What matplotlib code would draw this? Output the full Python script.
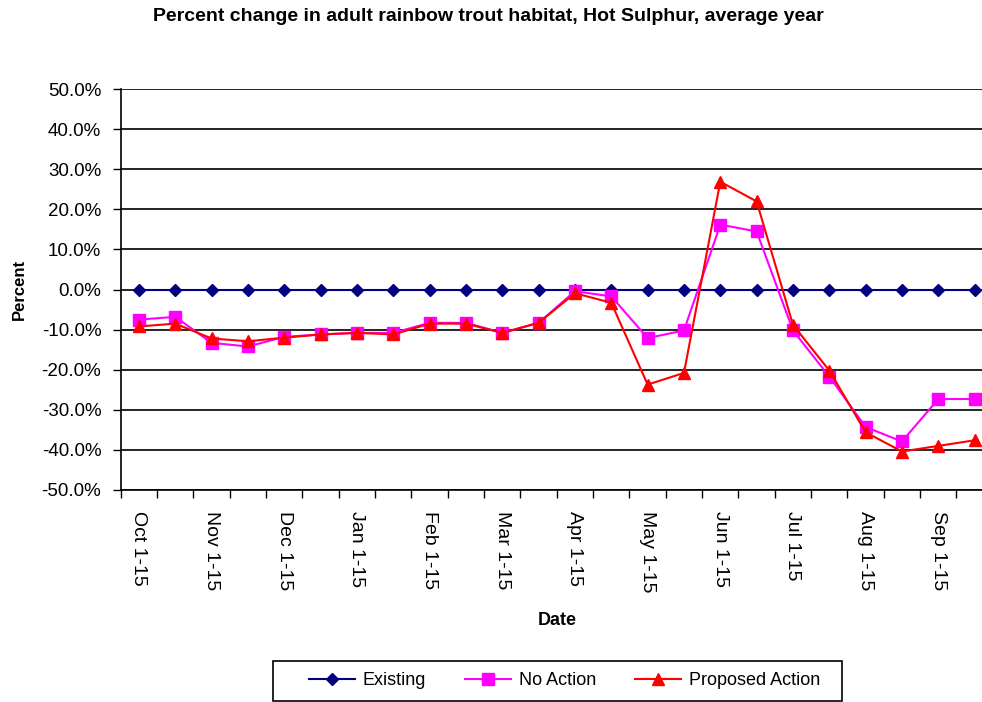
import matplotlib
matplotlib.use("Agg")
import matplotlib.pyplot as plt
from matplotlib.patches import Rectangle
from matplotlib.ticker import FuncFormatter, FixedLocator

plt.rcParams["font.family"] = ["Liberation Sans", "DejaVu Sans"]

# %% Data
periods = ["Oct 1-15", "Oct 16-31", "Nov 1-15", "Nov 16-30", "Dec 1-15", "Dec 16-31",
           "Jan 1-15", "Jan 16-31", "Feb 1-15", "Feb 16-28", "Mar 1-15", "Mar 16-31",
           "Apr 1-15", "Apr 16-30", "May 1-15", "May 16-31", "Jun 1-15", "Jun 16-30",
           "Jul 1-15", "Jul 16-31", "Aug 1-15", "Aug 16-31", "Sep 1-15", "Sep 16-30"]
existing = [0.0] * 24
no_action = [-7.5, -6.8, -13.3, -14.2, -11.8, -11.2, -10.8, -10.8, -8.3, -8.3, -10.8, -8.3,
             -0.4, -1.7, -12.1, -10.2, 16.2, 14.5, -10.2, -21.7, -34.3, -37.9, -27.3, -27.3]
proposed = [-9.2, -8.5, -12.2, -12.9, -12.0, -11.2, -10.8, -11.2, -8.5, -8.5, -10.8, -8.3,
            -0.9, -3.3, -23.7, -20.8, 26.9, 22.0, -8.8, -20.2, -35.6, -40.4, -39.0, -37.6]

# %% Plot
fig = plt.figure(figsize=(9.82, 7.02), dpi=100)
# plot area runs a little past the right edge of the picture
ax = fig.add_axes([0.123, 0.302, 0.888, 0.571])

x = list(range(len(periods)))
ax.plot(x, existing, color="#000080", marker="D", markersize=6.5, lw=1.5, label="Existing")
ax.plot(x, no_action, color="#FF00FF", marker="s", markersize=8, lw=1.5, label="No Action")
ax.plot(x, proposed, color="#FF0000", marker="^", markersize=9, lw=1.5, label="Proposed Action")

ax.set_xlim(-0.5, len(periods) - 0.5)
ax.set_ylim(-50, 50)
ax.set_yticks(range(-50, 51, 10))
ax.yaxis.set_major_formatter(FuncFormatter(lambda v, p: f"{v:.1f}%"))
ax.yaxis.grid(True, color="black", lw=1.2)
ax.set_axisbelow(True)

# ticks at category boundaries, labels on every other category
ax.xaxis.set_major_locator(FixedLocator([i - 0.5 for i in range(len(periods) + 1)]))
ax.xaxis.set_major_formatter(FuncFormatter(lambda v, p: ""))
ax.xaxis.set_minor_locator(FixedLocator(x[::2]))
ax.set_xticklabels(periods[::2], minor=True, rotation=-90, fontsize=14)
ax.tick_params(axis="x", which="minor", length=0, pad=15)
ax.tick_params(axis="x", which="major", length=6, direction="out", width=1)
ax.tick_params(axis="y", length=6, direction="out", labelsize=13.5, width=1, pad=8)

for s in ["top", "right"]:
    ax.spines[s].set_visible(False)
for s in ["left", "bottom"]:
    ax.spines[s].set_linewidth(1.2)

ax.set_ylabel("Percent", fontsize=12, fontweight="bold")
ax.yaxis.set_label_coords(-0.108, 0.5)
ax.set_xlabel("Date", fontsize=13, fontweight="bold")
ax.xaxis.set_label_coords(0.501, -0.305)
fig.suptitle("Percent change in adult rainbow trout habitat, Hot Sulphur, average year",
             x=0.497, y=0.988, fontsize=14, fontweight="bold")

# legend entries, with the box drawn separately (wider on the left like the original)
fig.legend(loc="center", bbox_to_anchor=(0.575, 0.030), ncol=3, fontsize=13,
           frameon=False, handlelength=2.55, handletextpad=0.45, columnspacing=2.15)
fig.patches.append(Rectangle((0.278, 0.0015), 0.579, 0.057, transform=fig.transFigure,
                             fill=False, edgecolor="black", lw=1.2))

plt.savefig("out.png")
